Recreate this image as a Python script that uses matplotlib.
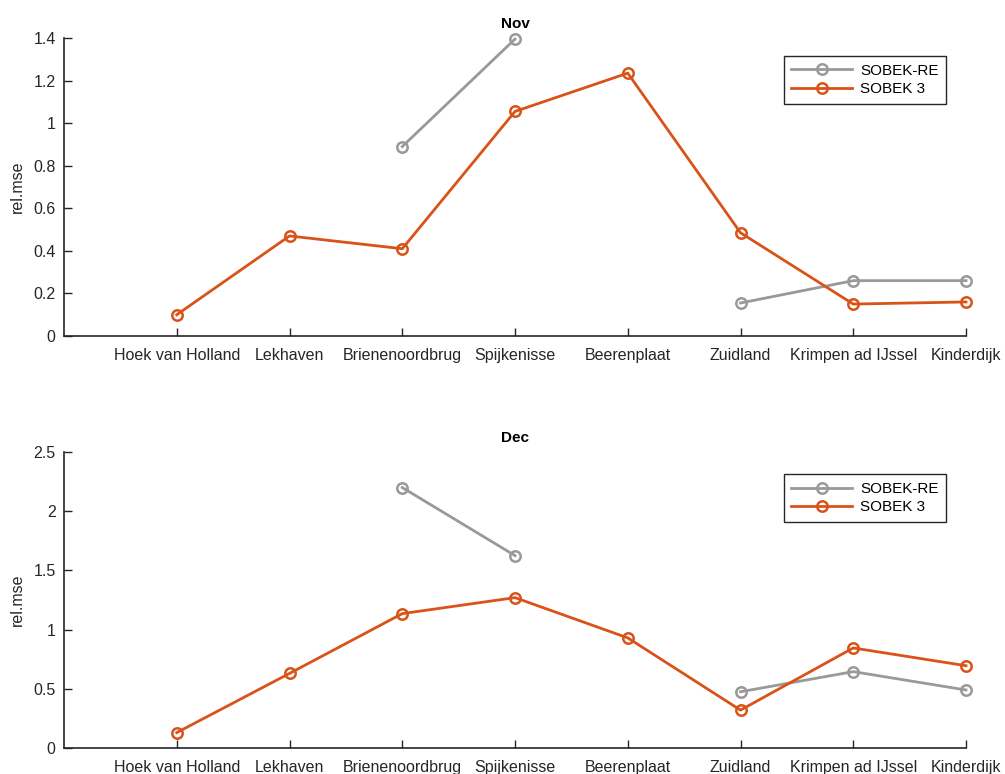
import matplotlib.pyplot as plt
import numpy as np

plt.rcParams['font.family'] = ['Liberation Sans', 'DejaVu Sans']

stations = ['Hoek van Holland', 'Lekhaven', 'Brienenoordbrug', 'Spijkenisse',
            'Beerenplaat', 'Zuidland', 'Krimpen ad IJssel', 'Kinderdijk']
nan = np.nan

# relative mse per station, NaN where no model result
nov_re = [nan, nan, 0.89, 1.395, nan, 0.155, 0.26, 0.26]
nov_s3 = [0.10, 0.47, 0.41, 1.055, 1.235, 0.485, 0.15, 0.16]
dec_re = [nan, nan, 2.20, 1.625, nan, 0.475, 0.645, 0.49]
dec_s3 = [0.13, 0.63, 1.135, 1.27, 0.93, 0.32, 0.845, 0.695]

months = ['Nov', 'Dec']
re_data = [nov_re, dec_re]
s3_data = [nov_s3, dec_s3]
ylims = [(0, 1.4), (0, 2.5)]
yticks = [np.arange(0, 1.41, 0.2), np.arange(0, 2.51, 0.5)]
ytlabels = [['0', '0.2', '0.4', '0.6', '0.8', '1', '1.2', '1.4'],
            ['0', '0.5', '1', '1.5', '2', '2.5']]
leg_y = [0.94, 0.925]

grey = '#999999'
orange = '#D95319'
txt = '#262626'

fig = plt.figure(figsize=(10.05, 7.74), dpi=100)
boxes = [[0.0637, 0.5659, 0.8975, 0.385], [0.0637, 0.0336, 0.8975, 0.3824]]

x = np.arange(1, len(stations) + 1)
for k in range(2):
    ax = fig.add_axes(boxes[k])
    ax.plot(x, re_data[k], '-o', color=grey, lw=2.0, ms=7.5, mew=1.8,
            mfc='none', label='SOBEK-RE', clip_on=False)
    ax.plot(x, s3_data[k], '-o', color=orange, lw=2.0, ms=7.5, mew=1.8,
            mfc='none', label='SOBEK 3', clip_on=False)
    ax.set_xlim(0, 8)
    ax.set_ylim(*ylims[k])
    ax.set_xticks(x)
    ax.set_xticklabels(stations)
    ax.set_yticks(yticks[k])
    ax.set_yticklabels(ytlabels[k])
    ax.tick_params(axis='both', which='major', direction='in', length=5.5,
                   width=1, colors=txt, labelsize=11.5, pad=6)
    ax.tick_params(axis='x', pad=9)
    for s in ['top', 'right']:
        ax.spines[s].set_visible(False)
    for s in ['left', 'bottom']:
        ax.spines[s].set_color(txt)
        ax.spines[s].set_linewidth(1.2)
    ax.set_ylabel('rel.mse', fontsize=11.5, color=txt, labelpad=6)
    ax.set_title(months[k], fontsize=11, fontweight='bold', pad=7)
    leg = ax.legend(loc='upper right', bbox_to_anchor=(0.978, leg_y[k]),
                    fontsize=11, handlelength=4.0, fancybox=False,
                    framealpha=1, borderpad=0.5, labelspacing=0.3,
                    handletextpad=0.5, borderaxespad=0)
    leg.get_frame().set_edgecolor(txt)
    leg.get_frame().set_linewidth(1.0)

fig.savefig('out.png', dpi=100)
